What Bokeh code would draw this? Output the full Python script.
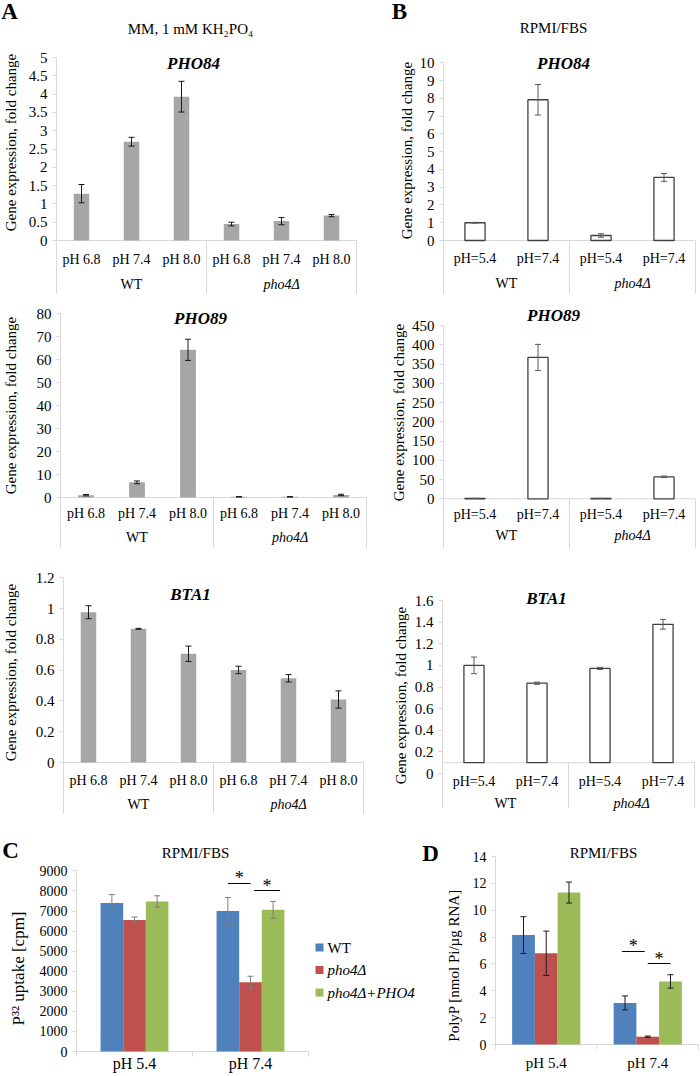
import math
from bokeh.plotting import figure
from bokeh.layouts import column, row
from bokeh.models import Range1d, FixedTicker, LinearAxis
from bokeh.embed import file_html
from bokeh.resources import INLINE
from bokeh.core.properties import value

FONT = "Liberation Serif"
AXIS_GRAY = "#d9d9d9"

# ---------------- data ----------------
strains = ["WT", "pho4Δ"]
a_ph = ["pH 6.8", "pH 7.4", "pH 8.0"]
b_ph = ["pH=5.4", "pH=7.4"]

a_pho84 = [1.28, 2.70, 3.93, 0.45, 0.53, 0.68]
a_pho84_err = [0.25, 0.12, 0.42, 0.05, 0.10, 0.03]
a_pho89 = [1.0, 6.6, 64.2, 0.3, 0.3, 1.1]
a_pho89_err = [0.3, 0.6, 4.6, 0.1, 0.1, 0.3]
a_bta1 = [0.976, 0.868, 0.706, 0.601, 0.547, 0.409]
a_bta1_err = [0.042, 0.003, 0.050, 0.024, 0.024, 0.056]

b_pho84 = [1.0, 7.92, 0.28, 3.55]
b_pho84_err = [0.02, 0.86, 0.10, 0.22]
b_pho89 = [1.0, 367.0, 1.0, 57.0]
b_pho89_err = [0.3, 34.0, 0.3, 2.0]
b_bta1 = [1.0, 0.835, 0.972, 1.38]
b_bta1_err = [0.077, 0.010, 0.010, 0.045]

a_pho84_ticks = [0, 0.5, 1, 1.5, 2, 2.5, 3, 3.5, 4, 4.5, 5]
a_pho89_ticks = [0, 10, 20, 30, 40, 50, 60, 70, 80]
a_bta1_ticks = [0, 0.2, 0.4, 0.6, 0.8, 1, 1.2]
b_pho84_ticks = [0, 1, 2, 3, 4, 5, 6, 7, 8, 9, 10]
b_pho89_ticks = [0, 50, 100, 150, 200, 250, 300, 350, 400, 450]
b_bta1_ticks = [0, 0.2, 0.4, 0.6, 0.8, 1, 1.2, 1.4, 1.6]

c_ph = ["pH 5.4", "pH 7.4"]
series = ["WT", "pho4Δ", "pho4Δ+PHO4"]
series_colors = ["#4f81bd", "#c0504d", "#9bbb59"]
c_wt = [7400, 7000]
c_wt_err = [420, 670]
c_pho4 = [6550, 3450]
c_pho4_err = [150, 300]
c_comp = [7480, 7060]
c_comp_err = [280, 420]
c_ticks = [0, 1000, 2000, 3000, 4000, 5000, 6000, 7000, 8000, 9000]

d_wt = [8.15, 3.10]
d_wt_err = [1.37, 0.52]
d_pho4 = [6.80, 0.58]
d_pho4_err = [1.65, 0.05]
d_comp = [11.32, 4.70]
d_comp_err = [0.78, 0.50]
d_ticks = [0, 2, 4, 6, 8, 10, 12, 14]

YLAB = "Gene expression, fold change"


def fmt(t):
    return f"{t:g}"


def setup(box, ax_px, cw_px, zero_px, top_px, ticks, tick_font="15px"):
    """Figure whose frame fills its whole canvas; the value axis sits at x=0."""
    cx0, cx1, cy0, cy1 = box
    ky = ticks[-1] / (zero_px - top_px)

    def X(px):
        return (px - ax_px) / cw_px

    def Y(py):
        return (zero_px - py) * ky

    p = figure(width=cx1 - cx0, height=cy1 - cy0,
               x_range=Range1d(X(cx0), X(cx1)), y_range=Range1d(Y(cy1), Y(cy0)),
               x_axis_location=None, y_axis_location=None,
               output_backend="svg", toolbar_location=None,
               min_border_left=0, min_border_right=0,
               min_border_top=0, min_border_bottom=0)
    p.grid.visible = False
    p.outline_line_color = None
    p.background_fill_color = "white"
    p.border_fill_color = "white"
    ax = LinearAxis(fixed_location=0)
    ax.ticker = FixedTicker(ticks=ticks)
    ax.major_label_overrides = {t: fmt(t) for t in ticks}
    ax.bounds = (0, ticks[-1])
    ax.axis_line_color = AXIS_GRAY
    ax.major_tick_line_color = AXIS_GRAY
    ax.major_tick_out = 4
    ax.major_tick_in = 0
    ax.minor_tick_line_color = None
    ax.major_label_text_font = FONT
    ax.major_label_text_font_size = tick_font
    ax.major_label_text_color = "#000000"
    ax.major_label_standoff = 5
    p.add_layout(ax, "left")
    return p, X, Y


def txt(p, xs, ys, texts, size, style="normal", align="center", angle=0.0):
    p.text(x=xs, y=ys, text=texts, text_font=value(FONT), text_font_size=size,
           text_font_style=style, text_align=align, text_baseline="middle",
           text_color="#000000", angle=angle)


def errbars(p, xs, vals, errs, color, cap=6):
    lo = [v - e for v, e in zip(vals, errs)]
    hi = [v + e for v, e in zip(vals, errs)]
    p.segment(x0=xs, y0=lo, x1=xs, y1=hi, line_color=color, line_width=1)
    p.scatter(x=list(xs) + list(xs), y=lo + hi, marker="dash", size=cap,
              line_color=color, line_width=1)


def gene_panel(box, ax_px, cw_px, zero_px, top_px, ticks, vals, errs, subs,
               title, title_px, cat_py, grp_py, sep_py, ylab_px, filled, base=0.0):
    p, X, Y = setup(box, ax_px, cw_px, zero_px, top_px, ticks)
    n = len(vals)
    g = n // 2
    xs = [i + 0.5 for i in range(n)]
    # category axis (two-level, Excel style)
    p.segment(x0=[0], y0=[base], x1=[n], y1=[base], line_color=AXIS_GRAY, line_width=1)
    p.segment(x0=[0, g, n], y0=[base] * 3, x1=[0, g, n], y1=[Y(sep_py)] * 3,
              line_color=AXIS_GRAY, line_width=1)
    if filled:
        p.vbar(x=xs, top=vals, bottom=base, width=0.31, fill_color="#a6a6a6", line_color=None)
        errbars(p, xs, vals, errs, "#1a1a1a")
    else:
        p.vbar(x=xs, top=vals, bottom=base, width=0.32, fill_color="white",
               line_color="#404040", line_width=1.3)
        errbars(p, xs, vals, errs, "#595959")
    txt(p, xs, [Y(cat_py)] * n, subs + subs, "14px")
    txt(p, [g / 2], [Y(grp_py)], [strains[0]], "14px")
    txt(p, [g + g / 2], [Y(grp_py)], [strains[1]], "14px", style="italic")
    txt(p, [X(title_px[0])], [Y(title_px[1])], [title], "17px", style="bold italic")
    txt(p, [X(ylab_px[0])], [Y(ylab_px[1])], [YLAB], "15px", angle=math.pi / 2)
    return p, X, Y


# ---------------- panel A ----------------
a1, X, Y = gene_panel((0, 388, 0, 296), 56, 50, 240, 57, a_pho84_ticks, a_pho84, a_pho84_err,
                      a_ph, "PHO84", (193, 63), 259, 284, 293, (10, 142), True)
txt(a1, [X(9)], [Y(11)], ["A"], "23px", style="bold")
txt(a1, [X(190)], [Y(28)], ["MM, 1 mM KH₂PO₄"], "15px")

a2, X, Y = gene_panel((0, 388, 296, 565), 60, 51, 497, 313, a_pho89_ticks, a_pho89, a_pho89_err,
                      a_ph, "PHO89", (200, 318), 513, 537, 547, (10, 405), True)

a3, X, Y = gene_panel((0, 388, 565, 835), 63, 50, 762, 577.2, a_bta1_ticks, a_bta1, a_bta1_err,
                      a_ph, "BTA1", (190, 594), 780, 804, 813, (10, 672), True)

# ---------------- panel B ----------------
b1, X, Y = gene_panel((388, 700, 0, 296), 443, 63, 240, 62.3, b_pho84_ticks, b_pho84, b_pho84_err,
                      b_ph, "PHO84", (563, 63), 258, 283, 293, (406, 150), False)
txt(b1, [X(399)], [Y(11)], ["B"], "23px", style="bold")
txt(b1, [X(553)], [Y(27)], ["RPMI/FBS"], "15px")

b2, X, Y = gene_panel((388, 700, 296, 565), 443, 63, 498.3, 325, b_pho89_ticks, b_pho89, b_pho89_err,
                      b_ph, "PHO89", (553, 315), 514, 535, 548, (398, 412), False)

b3, X, Y = gene_panel((388, 700, 565, 835), 442, 63, 773, 600, b_bta1_ticks, b_bta1, b_bta1_err,
                      b_ph, "BTA1", (546, 598), 781, 803, 807, (400, 695), False, base=0.1)


# ---------------- panels C and D ----------------
def group_panel(box, ax_px, cw_px, zero_px, top_px, ticks, groups, errc, bw, cat_font,
                cat_py, ylab, ylab_px, ylab_font):
    p, X, Y = setup(box, ax_px, cw_px, zero_px, top_px, ticks, tick_font="14px")
    n = len(c_ph)
    p.segment(x0=[0], y0=[0], x1=[n], y1=[0], line_color=AXIS_GRAY, line_width=1)
    p.segment(x0=list(range(n + 1)), y0=[0] * (n + 1), x1=list(range(n + 1)),
              y1=[Y(zero_px + 5)] * (n + 1), line_color=AXIS_GRAY, line_width=1)
    centers = []
    for k, (vals, errs) in enumerate(groups):
        xs = [i + 0.5 + (k - 1) * bw for i in range(n)]
        centers.append(xs)
        p.vbar(x=xs, top=vals, width=bw, fill_color=series_colors[k], line_color=None)
    for k, (vals, errs) in enumerate(groups):
        errbars(p, centers[k], vals, errs, errc)
    txt(p, [i + 0.5 for i in range(n)], [Y(cat_py)] * n, c_ph, cat_font)
    txt(p, [X(ylab_px[0])], [Y(ylab_px[1])], [ylab], ylab_font, angle=math.pi / 2)
    return p, X, Y, centers


def sig(p, x0, x1, yline, ystar):
    p.segment(x0=[x0], y0=[yline], x1=[x1], y1=[yline], line_color="#000000", line_width=1)
    txt(p, [(x0 + x1) / 2], [ystar], ["*"], "18px")


c, X, Y, cc = group_panel((0, 420, 835, 1074), 76, 116, 1051, 870.4, c_ticks,
                          [(c_wt, c_wt_err), (c_pho4, c_pho4_err), (c_comp, c_comp_err)],
                          "#7f7f7f", 0.195, "16px", 1063, "P³² uptake [cpm]", (18, 968), "17px")
txt(c, [X(10)], [Y(850)], ["C"], "23px", style="bold")
txt(c, [X(195)], [Y(852)], ["RPMI/FBS"], "15px")
sig(c, cc[0][1], cc[1][1], Y(883), Y(877))
sig(c, cc[1][1] + 0.03, cc[2][1] + 0.06, Y(890), Y(885))
for k, (name, col) in enumerate(zip(series, series_colors)):
    yy = Y(947 + 22.5 * k)
    c.scatter(x=[X(319)], y=[yy], marker="square", size=8, fill_color=col, line_color=None)
    txt(c, [X(327)], [yy], [name], "15px", style="normal" if k == 0 else "italic", align="left")

d, X, Y, dc = group_panel((420, 700, 835, 1074), 495, 101.5, 1044, 856.1, d_ticks,
                          [(d_wt, d_wt_err), (d_pho4, d_pho4_err), (d_comp, d_comp_err)],
                          "#1a1a1a", 0.224, "15px", 1062, "PolyP [nmol Pi/µg RNA]", (453, 965), "15px")
txt(d, [X(430)], [Y(853)], ["D"], "23px", style="bold")
txt(d, [X(603)], [Y(852)], ["RPMI/FBS"], "15px")
sig(d, dc[0][1] - 0.03, dc[1][1] - 0.03, Y(951), Y(945))
sig(d, dc[1][1], dc[2][1], Y(963), Y(958))

layout = column(row(a1, b1), row(a2, b2), row(a3, b3), row(c, d))
open("out.html", "w").write(file_html(layout, INLINE))
